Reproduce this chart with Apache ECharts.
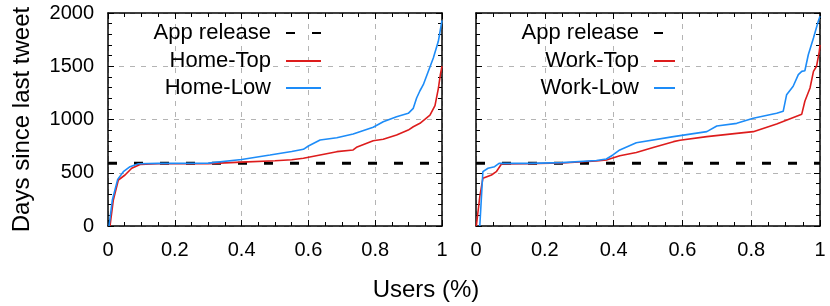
<!DOCTYPE html>
<html>
<head>
<meta charset="utf-8">
<script src="https://cdn.jsdelivr.net/npm/echarts@6/dist/echarts.min.js"></script>
<style>html,body{margin:0;padding:0;background:#fff;}#c{width:830px;height:306px;}</style>
</head>
<body>
<div id="c"></div>
<script>
// ---- data ----
const releaseDay = 590;
const releaseX = [0, 1];

const homeTopX = [0.006, 0.016, 0.031, 0.051, 0.071, 0.096, 0.15, 0.3, 0.4, 0.5, 0.55, 0.585, 0.635, 0.685, 0.734, 0.744, 0.794, 0.824, 0.864, 0.899, 0.914, 0.934, 0.964, 0.979, 0.989, 0.995, 1.0];
const homeTopY = [0, 244, 432, 479, 542, 578, 585, 586, 600, 613, 622, 636, 667, 698, 714, 739, 801, 814, 855, 901, 932, 964, 1040, 1130, 1290, 1420, 1500];

const homeLowX = [0.003, 0.013, 0.029, 0.046, 0.066, 0.091, 0.15, 0.3, 0.4, 0.485, 0.55, 0.585, 0.6, 0.635, 0.685, 0.734, 0.794, 0.824, 0.864, 0.899, 0.914, 0.924, 0.934, 0.944, 0.974, 0.989, 1.0];
const homeLowY = [0, 244, 438, 510, 557, 585, 588, 590, 625, 667, 700, 720, 751, 808, 829, 864, 927, 979, 1026, 1058, 1105, 1202, 1270, 1327, 1578, 1734, 1930];

const workTopX = [0.001, 0.011, 0.02, 0.045, 0.059, 0.074, 0.15, 0.25, 0.35, 0.379, 0.418, 0.466, 0.515, 0.574, 0.593, 0.671, 0.758, 0.806, 0.874, 0.947, 0.956, 0.971, 0.981, 0.99, 0.998, 1.0];
const workTopY = [0, 275, 448, 479, 510, 582, 585, 592, 610, 620, 660, 690, 737, 792, 805, 839, 870, 886, 958, 1050, 1171, 1296, 1452, 1500, 1640, 1700];

const workLowX = [0.011, 0.02, 0.035, 0.054, 0.067, 0.15, 0.25, 0.35, 0.379, 0.398, 0.418, 0.466, 0.574, 0.671, 0.7, 0.758, 0.806, 0.874, 0.893, 0.903, 0.922, 0.937, 0.947, 0.956, 0.966, 0.981, 0.995, 1.0];
const workLowY = [0, 510, 542, 557, 588, 588, 595, 615, 629, 667, 714, 782, 839, 886, 939, 964, 1011, 1058, 1077, 1233, 1312, 1421, 1452, 1458, 1608, 1765, 1922, 1969];

const xTicks = [0, 0.2, 0.4, 0.6, 0.8, 1];
const yTicks = [0, 500, 1000, 1500, 2000];

// ---- helpers ----
const zip = (xs, ys) => xs.map((x, i) => [x, ys[i]]);
const FONT = 'Liberation Sans';
const RED = '#dd1c1c';
const BLUE = '#1d8cf8';

function xAx(grid, pos, labels) {
  return {
    type: 'value', gridIndex: grid, position: pos, min: xTicks[0], max: xTicks[xTicks.length - 1], interval: 0.2,
    axisLine: {show: true, onZero: false, lineStyle: {color: '#000', width: 1.5}},
    axisTick: {show: true, inside: true, length: 6, lineStyle: {color: '#000', width: 1}},
    minorTick: {show: true, splitNumber: 4, length: 4, lineStyle: {color: '#000', width: 1}},
    axisLabel: {show: labels, fontFamily: FONT, fontSize: 20, color: '#000', margin: 14,
      formatter: v => String(Math.round(v * 10) / 10)},
    splitLine: {show: labels, lineStyle: {color: '#b4b4b4', width: 1, type: [5, 6]}}
  };
}
function yAx(grid, pos, labels, grids, name) {
  const a = {
    type: 'value', gridIndex: grid, position: pos, min: yTicks[0], max: yTicks[yTicks.length - 1], interval: 500,
    axisLine: {show: true, onZero: false, lineStyle: {color: '#000', width: 1.5}},
    axisTick: {show: true, inside: true, length: 6, lineStyle: {color: '#000', width: 1}},
    minorTick: {show: true, splitNumber: 5, length: 4, lineStyle: {color: '#000', width: 1}},
    axisLabel: {show: labels, fontFamily: FONT, fontSize: 20, color: '#000', margin: 14,
      formatter: v => String(Math.round(v))},
    splitLine: {show: grids, lineStyle: {color: '#b4b4b4', width: 1, type: [5, 6]}}
  };
  if (name) {
    a.name = name; a.nameLocation = 'middle'; a.nameGap = 74;
    a.nameTextStyle = {fontFamily: FONT, fontSize: 24, color: '#000'};
  }
  return a;
}
function lineSeries(name, xi, yi, data, color, dashed) {
  return {
    name: name, type: 'line', xAxisIndex: xi, yAxisIndex: yi, data: data,
    symbol: 'none', showSymbol: false, animation: false, z: dashed ? 3 : 4,
    lineStyle: dashed ? {color: '#000', width: 3, type: [9, 17]} : {color: color, width: 1.6},
    itemStyle: {color: dashed ? '#000' : color}
  };
}
function leg(name, right, top, w) {
  return {
    data: [name], right: right, top: top, orient: 'vertical', align: 'right', padding: 0,
    itemWidth: w, itemHeight: 14, selectedMode: false,
    itemStyle: {opacity: 0, borderWidth: 0},
    lineStyle: {opacity: 1},
    textStyle: {fontFamily: FONT, fontSize: 22, color: '#000', padding: [0, 10, 0, 0]}
  };
}

const chart = echarts.init(document.getElementById('c'), null, {renderer: 'canvas'});
chart.setOption({
  backgroundColor: '#fff',
  animation: false,
  grid: [
    {left: 108, top: 13, width: 334, height: 213},
    {left: 476, top: 13, width: 344, height: 213}
  ],
  xAxis: [xAx(0, 'bottom', true), xAx(0, 'top', false), xAx(1, 'bottom', true), xAx(1, 'top', false)],
  yAxis: [yAx(0, 'left', true, true, 'Days since last tweet'), yAx(0, 'right', false, false),
          yAx(1, 'left', false, true), yAx(1, 'right', false, false)],
  legend: [
    leg('App release', 508, 22, 35), leg('Home-Top', 508, 50, 35), leg('Home-Low', 508, 77, 35),
    leg('App release', 154, 22, 21), leg('Work-Top', 154, 50, 21), leg('Work-Low', 154, 77, 21)
  ],
  graphic: [{
    type: 'text', x: 426, y: 290,
    style: {text: 'Users (%)', font: '24px "Liberation Sans"', fill: '#000', textAlign: 'center', textVerticalAlign: 'middle'}
  }],
  series: [
    lineSeries('App release', 0, 0, releaseX.map(x => [x, releaseDay]), '#000', true),
    lineSeries('Home-Top', 0, 0, zip(homeTopX, homeTopY), RED, false),
    lineSeries('Home-Low', 0, 0, zip(homeLowX, homeLowY), BLUE, false),
    lineSeries('App release', 2, 2, releaseX.map(x => [x, releaseDay]), '#000', true),
    lineSeries('Work-Top', 2, 2, zip(workTopX, workTopY), RED, false),
    lineSeries('Work-Low', 2, 2, zip(workLowX, workLowY), BLUE, false)
  ]
});
</script>
</body>
</html>
